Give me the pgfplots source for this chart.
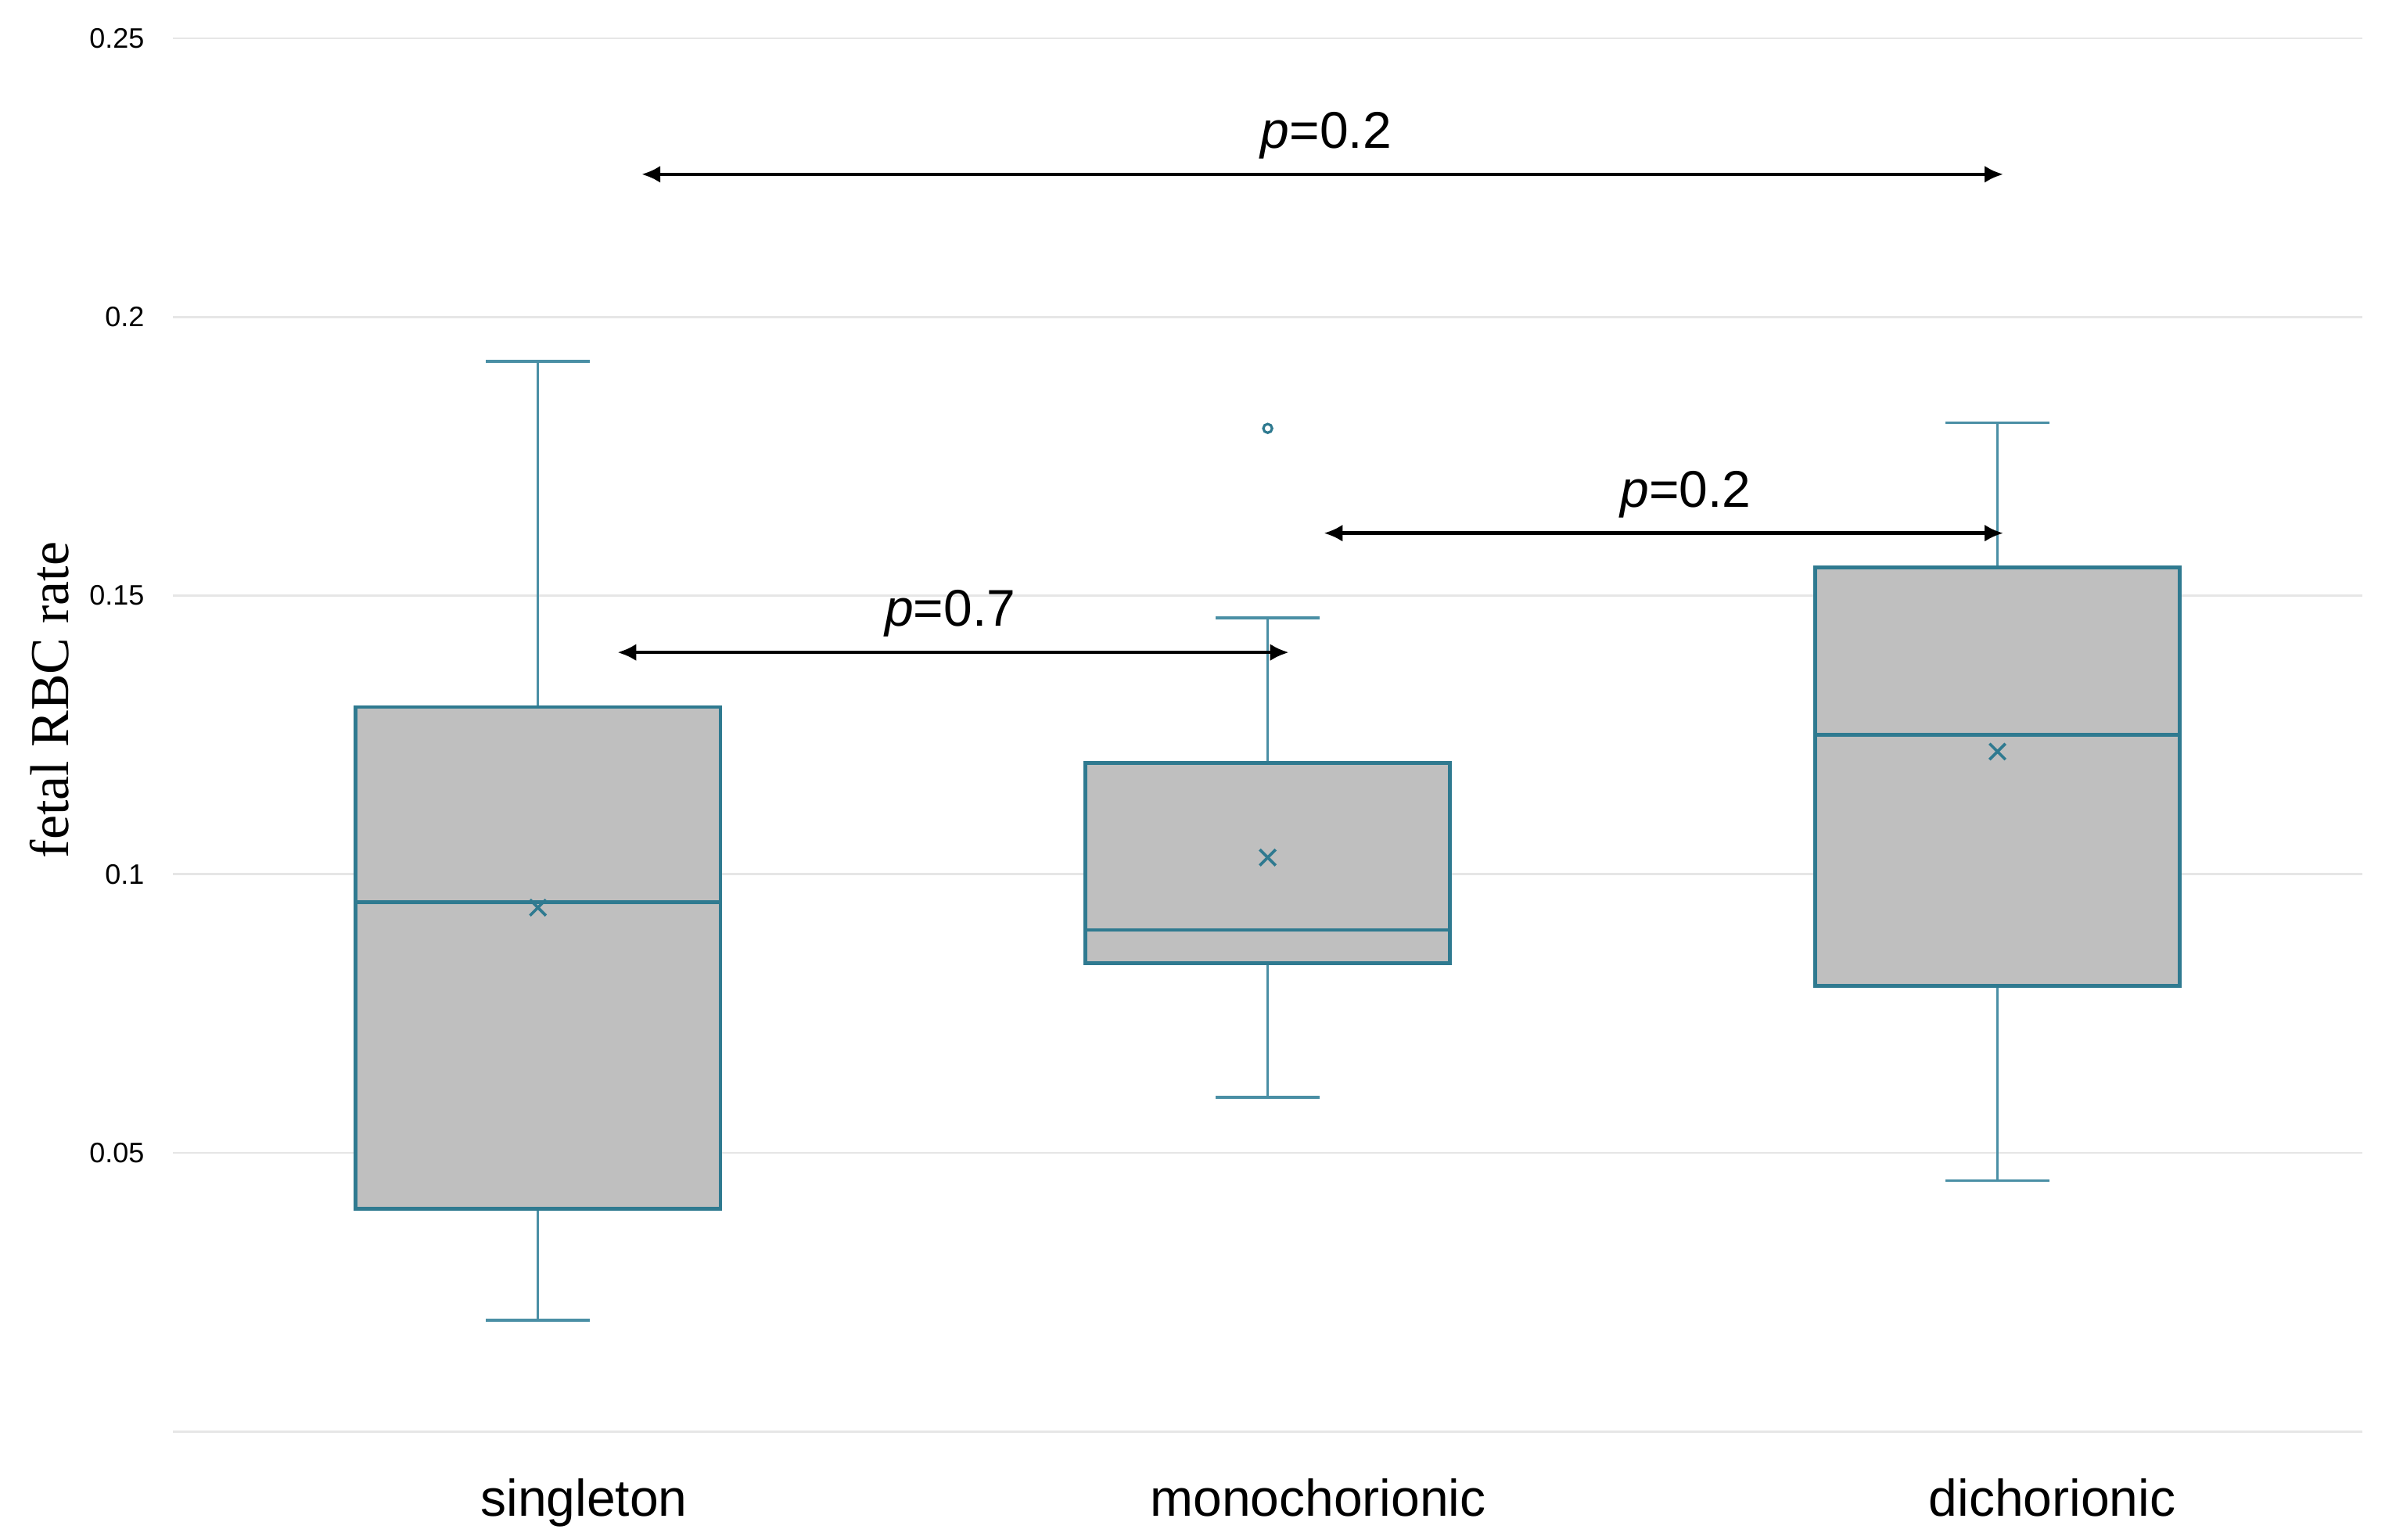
\documentclass[border=0pt]{standalone}
\usepackage{pgfplots}
\pgfplotsset{compat=1.18}
\usepgfplotslibrary{statistics}
\usetikzlibrary{arrows.meta}
\usepackage{fontspec}
\setmainfont{Liberation Sans}
\newfontfamily\seriffont{Liberation Serif}
\definecolor{edge}{HTML}{2F7A90}
\definecolor{whisk}{HTML}{4A8FA5}
\definecolor{boxfill}{HTML}{BFBFBF}
\definecolor{gridc}{HTML}{E6E6E6}
\tikzset{sig/.style={{Latex[length=6bp,width=5.5bp]}-{Latex[length=6bp,width=5.5bp]}, line width=1.1bp, black}}
\begin{document}
\begin{tikzpicture}
\useasboundingbox (-55.3bp,-34.5bp) rectangle (710.45bp,457.55bp);
\begin{axis}[
  at={(0,0)}, anchor=south west,
  scale only axis, width=699.7bp, height=445.3bp,
  xmin=0.5, xmax=3.5, ymin=0, ymax=0.25,
  axis line style={draw=none},
  major tick length=0pt,
  ytick={0,0.05,0.1,0.15,0.2,0.25},
  yticklabels={,0.05,0.1,0.15,0.2,0.25},
  ymajorgrids, grid style={gridc, line width=0.7bp},
  xtick={1.063,2.069,3.075},
  xticklabels={singleton,monochorionic,dichorionic},
  xticklabel style={anchor=base, yshift=-27bp, font=\fontsize{16.5bp}{19bp}\selectfont},
  yticklabel style={anchor=east, inner sep=0pt, xshift=-9bp, font=\fontsize{9bp}{10bp}\selectfont},
  /pgf/number format/assume math mode=true,
  ylabel={\seriffont fetal RBC rate},
  y label style={font=\fontsize{17.5bp}{20bp}\selectfont, at={(axis description cs:0,0.525)}, anchor=center, yshift=39.5bp},
  boxplot/draw direction=y,
  boxplot/box extend=0.5,
  boxplot/whisker extend=0.142,
  boxplot/every box/.style={draw=edge, line width=1.2bp, fill=boxfill},
  boxplot/every median/.style={draw=edge, line width=1.2bp},
  boxplot/every whisker/.style={draw=whisk, line width=0.9bp},
  clip=false,
]
\addplot[boxplot prepared={draw position=1, lower whisker=0.020, lower quartile=0.040, median=0.095, upper quartile=0.130, upper whisker=0.192}, draw=whisk] coordinates {};
\addplot[boxplot prepared={draw position=2, lower whisker=0.060, lower quartile=0.084, median=0.090, upper quartile=0.120, upper whisker=0.146}, draw=whisk] coordinates {};
\addplot[boxplot prepared={draw position=3, lower whisker=0.045, lower quartile=0.080, median=0.125, upper quartile=0.155, upper whisker=0.181}, draw=whisk] coordinates {};
% means
\addplot[only marks, mark=x, mark size=3.6bp, draw=edge, line width=0.9bp] coordinates {(1,0.094) (2,0.103) (3,0.122)};
% outlier
\addplot[only marks, mark=o, mark size=1.4bp, draw=edge, line width=0.8bp] coordinates {(2,0.180)};
% significance arrows
\draw[sig] (axis cs:1.142,0.2256) -- (axis cs:3.008,0.2256);
\node[font=\fontsize{16.5bp}{19bp}\selectfont, anchor=base] at (axis cs:2.08,0.2303) {\textit{p}=0.2};
\draw[sig] (axis cs:1.109,0.1398) -- (axis cs:2.029,0.1398);
\node[font=\fontsize{16.5bp}{19bp}\selectfont, anchor=base] at (axis cs:1.565,0.1445) {\textit{p}=0.7};
\draw[sig] (axis cs:2.077,0.1612) -- (axis cs:3.008,0.1612);
\node[font=\fontsize{16.5bp}{19bp}\selectfont, anchor=base] at (axis cs:2.573,0.1659) {\textit{p}=0.2};
\end{axis}
\end{tikzpicture}
\end{document}
